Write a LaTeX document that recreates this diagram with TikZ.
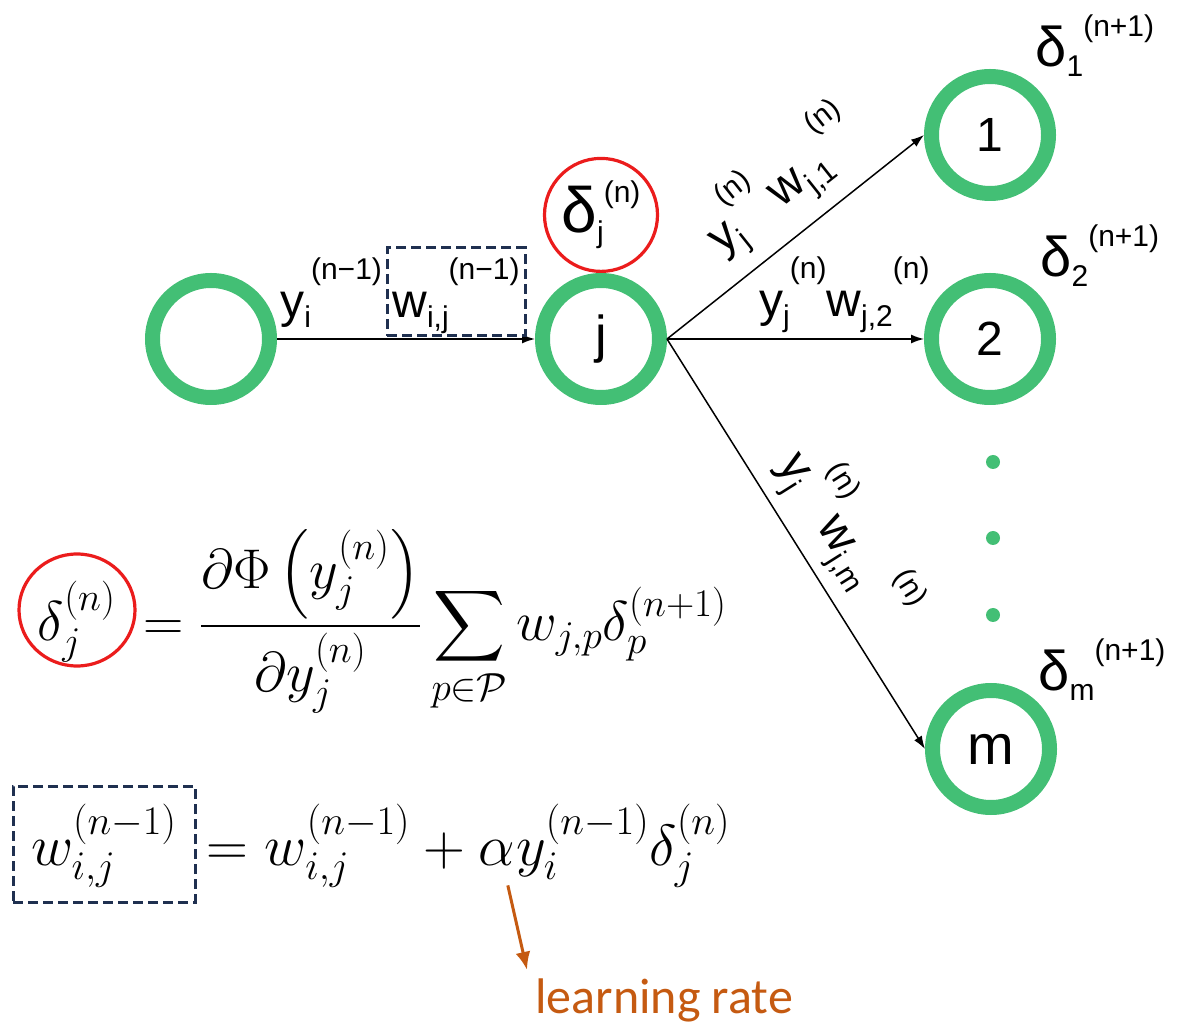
\documentclass[tikz,border=0pt]{standalone}
\usepackage{fix-cm}
\usepackage{amsmath}
\usepackage[no-math]{fontspec}
\setmainfont{Liberation Sans}
\newfontfamily\lrfont{Carlito}
\usetikzlibrary{arrows.meta,positioning,shapes.geometric}

\definecolor{ringgreen}{RGB}{67,191,117}
\definecolor{markred}{RGB}{235,28,28}
\definecolor{boxnavy}{RGB}{31,48,80}
\definecolor{lrorange}{RGB}{197,90,17}

% small text for indices
\newcommand{\subfnt}{\fontsize{15}{15}\selectfont}
\newcommand{\ssv}[4][19pt]{#2\raisebox{-5pt}{\subfnt #3}\raisebox{#1}{\subfnt #4}}

\begin{document}
\begin{tikzpicture}[
  x=0.5pt, y=-0.5pt,
  >={Latex[length=6.5pt,width=4.5pt]},
  neuron/.style={circle,draw=ringgreen,line width=7.5pt,minimum size=58.5pt,inner sep=0pt,font=\fontsize{24}{24}\selectfont},
  dotn/.style={circle,fill=ringgreen,minimum size=7pt,inner sep=0pt},
  conn/.style={->,line width=0.75pt},
  elab/.style={inner sep=0pt,font=\fontsize{24}{24}\selectfont},
  dlab/.style={inner sep=0pt,font=\fontsize{28}{28}\selectfont},
  redring/.style={circle,draw=markred,line width=1.6pt,minimum size=56.5pt,inner sep=0pt,font=\fontsize{32}{32}\selectfont},
  navybox/.style={draw=boxnavy,line width=1.5pt,dash pattern=on 5pt off 2.5pt},
  eqn/.style={inner sep=0pt},
  lrarrow/.style={-{Latex[length=9pt,width=7.5pt]},draw=lrorange,line width=1.5pt},
]
\useasboundingbox (0,0) rectangle (1178,1031);

% ---------- network ----------
\node[neuron] (src) at (211,339) {};
\node[neuron] (j)   at (601,339) {\fontsize{26}{26}\selectfont j};
\node[neuron] (n1)  at (990,135) {1};
\node[neuron] (n2)  at (990,339) {2};
\node[neuron] (nm)  at (991,749) {\fontsize{28}{28}\selectfont m};

\foreach \y [count=\k] in {462,538,615}
  \node[dotn] (dot\k) at (993,\y) {};

\node[redring,above=0pt of j] (dnj) {\ssv[15pt]{δ}{j}{(n)}};

\node[dlab,anchor=base west] (dl1) at (1035,67)  {\ssv[15pt]{δ}{1}{(n+1)}};
\node[dlab,anchor=base west] (dl2) at (1040,277) {\ssv[15pt]{δ}{2}{(n+1)}};
\node[dlab,anchor=base west] (dlm) at (1038,690) {\ssv[15pt]{δ}{m}{(n+1)}};

\draw[conn] (src) -- (j);
\node[elab,anchor=base west] (yi) at (280,318) {\ssv{y}{i}{(n−1)}};
\node[elab,navybox,minimum width=69pt,text height=35pt,text depth=9pt] (wij) at (456,292)
  {\ssv{w}{i,j}{(n−1)}};

\draw[conn] (j.east) -- node[elab,sloped,above=7pt,pos=0.57] (l1)
  {\ssv{y}{j}{(n)}\hspace{4pt}\ssv{w}{j,1}{\hspace{2pt}(n)}} (n1.west);
\draw[conn] (j.east) -- node[elab,above=3pt,pos=0.69] (l2)
  {\ssv{y}{j}{(n)}\ssv{w}{j,2}{(n)}} (n2.west);
\draw[conn] (j.east) -- node[elab,sloped,above=5pt,pos=0.54] (lm)
  {\ssv{y}{j}{(n)}\hspace{3pt}\ssv{w}{j,m}{\hspace{4.5pt}(n)}} (nm.west);

% ---------- delta rule ----------
\node[eqn,ellipse,draw=markred,line width=1.6pt,minimum width=58pt,minimum height=56pt,
  text height=30pt,text depth=0pt,font=\fontsize{28}{28}\selectfont,anchor=base] (dnf) at (77,640)
  {$\delta_j^{(n)}$};
\node[eqn,anchor=base west,font=\fontsize{28}{33}\selectfont] (frm) at ([xshift=3pt]dnf.east |- dnf.base)
  {$\displaystyle =\frac{\partial\Phi\left(y_j^{(n)}\right)}{\partial y_j^{(n)}}\sum_{p\in\mathcal{P}} w_{j,p}\delta_p^{(n+1)}$};

% ---------- weight update ----------
\node[eqn,navybox,minimum width=91pt,text height=39.5pt,text depth=18.5pt,font=\fontsize{29}{29}\selectfont] (wnew) at (104,844)
  {$w_{i,j}^{(n-1)}$};
\node[eqn,anchor=base west,font=\fontsize{29}{29}\selectfont] (upd) at ([xshift=5pt]wnew.base east)
  {$= w_{i,j}^{(n-1)} + {}$};
\node[eqn,anchor=base west,font=\fontsize{29}{29}\selectfont] (alpha) at (upd.base east) {$\alpha$};
\node[eqn,anchor=base west,font=\fontsize{29}{29}\selectfont] (ydel) at (alpha.base east)
  {$y_i^{(n-1)}\delta_j^{(n)}$};

\node[inner sep=4pt,anchor=base west,font=\lrfont\fontsize{25}{25}\selectfont,text=lrorange] (lr) at (527,1013) {learning rate};
\draw[lrarrow] ([xshift=-4pt,yshift=-10pt]alpha.south east) -- (lr.north west);

\end{tikzpicture}
\end{document}
